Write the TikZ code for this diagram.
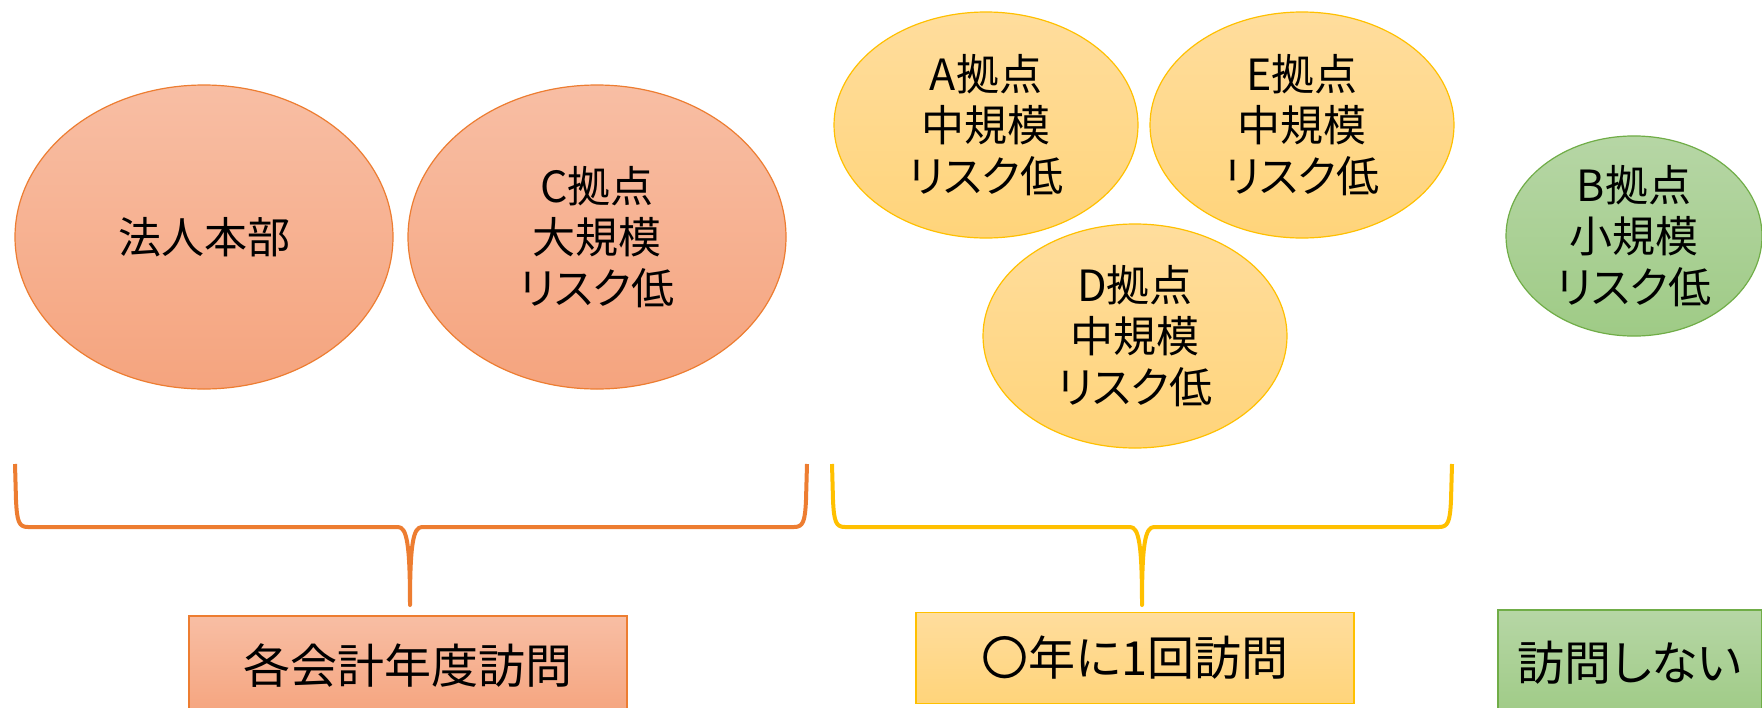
\documentclass[tikz,border=0pt]{standalone}
\usepackage{fontspec}
\setmainfont[RawFeature={+palt}]{Noto Sans CJK JP}
\usetikzlibrary{shapes.geometric}
\definecolor{oline}{HTML}{ED7D31}
\definecolor{otop}{HTML}{F8BEA4}
\definecolor{obot}{HTML}{F5A47E}
\definecolor{yline}{HTML}{FFC000}
\definecolor{ytop}{HTML}{FFDD9D}
\definecolor{ybot}{HTML}{FFD47A}
\definecolor{gline}{HTML}{70AD47}
\definecolor{gtop}{HTML}{B6D6A5}
\definecolor{gbot}{HTML}{9FCB86}
\tikzset{
  bubble/.style={ellipse, inner sep=0pt, align=center, text=black,
    font=\fontsize{43}{51}\selectfont, line width=1.2pt},
  obub/.style={bubble, draw=oline, top color=otop, bottom color=obot},
  ybub/.style={bubble, draw=yline, top color=ytop, bottom color=ybot},
  gbub/.style={bubble, draw=gline, top color=gtop, bottom color=gbot},
  tag/.style={rectangle, inner sep=0pt, align=center, text=black,
    font=\fontsize{47}{56}\selectfont, line width=1.2pt},
  brace/.style={line width=4pt, line join=round, line cap=butt}
}
\begin{document}
\begin{tikzpicture}[x=1pt,y=-1pt]
\useasboundingbox (0,0) rectangle (1762,707);
\fill[white] (0,0) rectangle (1762,707);
% ellipses
\node[obub, minimum width=378pt, minimum height=304pt] (hq) at (204,237) {法人本部};
\node[obub, minimum width=378pt, minimum height=304pt] (c) at (597,237) {C拠点\\大規模\\リスク低};
\node[ybub, minimum width=304pt, minimum height=226pt] (a) at (986,125) {A拠点\\中規模\\リスク低};
\node[ybub, minimum width=304pt, minimum height=226pt] (e) at (1302,125) {E拠点\\中規模\\リスク低};
\node[ybub, minimum width=304pt, minimum height=224pt] (d) at (1135,336) {D拠点\\中規模\\リスク低};
\node[gbub, minimum width=256pt, minimum height=184pt] (b) at (1634,236) {B拠点\\小規模\\リスク低};
% boxes
\node[tag, draw=oline, top color=otop, bottom color=obot, minimum width=438pt, minimum height=100pt] (t1) at (408,666) {各会計年度訪問};
\node[tag, draw=yline, top color=ytop, bottom color=ybot, minimum width=438pt, minimum height=91pt] (t2) at (1135,658) {〇年に1回訪問};
\node[tag, draw=gline, top color=gtop, bottom color=gbot, minimum width=264pt, minimum height=106pt] (t3) at (1630,663) {訪問しない};
% braces
\coordinate (otip) at (410,605);
\coordinate (ytip) at (1142,605);
\draw[brace, oline] (15,464) -- (16,500) .. controls (17,522) and (19,527) .. (28,527)
  -- (398,527) .. controls (407,527) and (410,545) .. (otip)
  .. controls (410,545) and (413,527) .. (422,527)
  -- (794,527) .. controls (803,527) and (805,522) .. (806,500) -- (807,464);
\draw[brace, yline] (832,464) -- (833,500) .. controls (834,522) and (836,527) .. (845,527)
  -- (1130,527) .. controls (1139,527) and (1142,545) .. (ytip)
  .. controls (1142,545) and (1145,527) .. (1154,527)
  -- (1439,527) .. controls (1448,527) and (1450,522) .. (1451,500) -- (1452,464);
\end{tikzpicture}
\end{document}
